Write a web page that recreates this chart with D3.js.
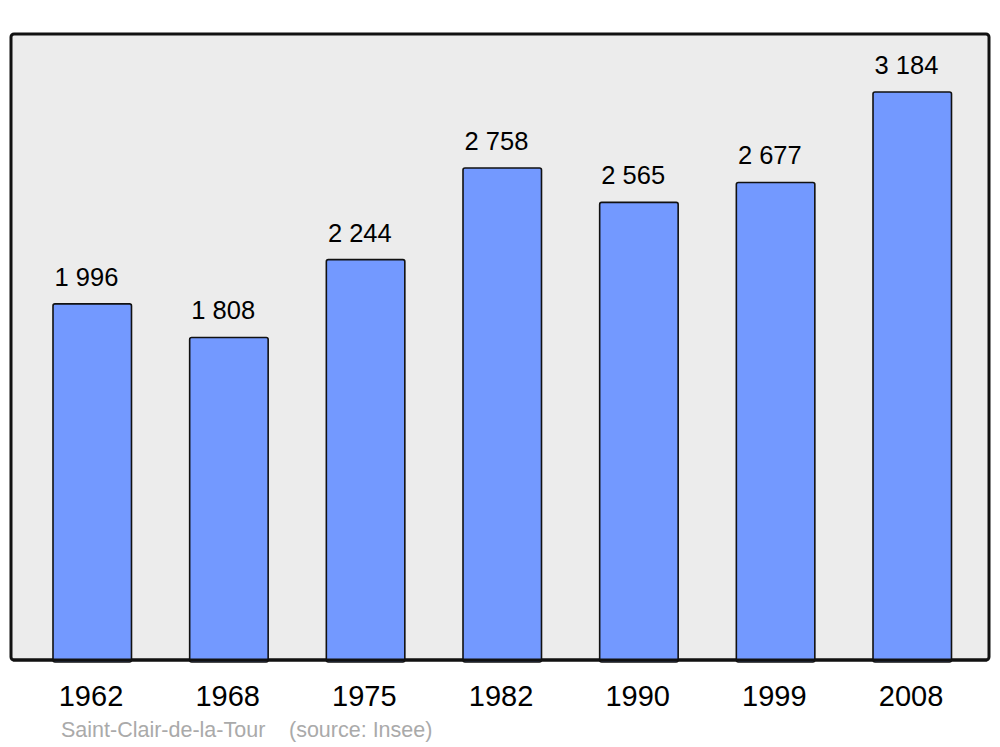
<!DOCTYPE html>
<html>
<head>
<meta charset="utf-8">
<script src="https://cdn.jsdelivr.net/npm/d3@7"></script>
<style>
  body { margin: 0; background: #fff; }
  svg { display: block; font-family: "Liberation Sans", Arial, sans-serif; }
</style>
</head>
<body>
<div class="chart"></div>
<script>
var years = ["1962", "1968", "1975", "1982", "1990", "1999", "2008"];
var population = [1996, 1808, 2244, 2758, 2565, 2677, 3184];
var valueLabels = ["1 996", "1 808", "2 244", "2 758", "2 565", "2 677", "3 184"];
var commune = "Saint-Clair-de-la-Tour";
var source = "(source: Insee)";

var width = 1000, height = 747;
var panel = {left: 11, top: 34, right: 989, bottom: 660};

var svg = d3.select(".chart").append("svg")
  .attr("width", width)
  .attr("height", height);

// frame
svg.append("rect")
  .attr("x", panel.left)
  .attr("y", panel.top)
  .attr("width", panel.right - panel.left)
  .attr("height", panel.bottom - panel.top)
  .attr("rx", 3)
  .attr("fill", "#ececec")
  .attr("stroke", "#111")
  .attr("stroke-width", 3);

var xScale = d3.scaleBand()
  .domain(years)
  .range([13.5, 991.5])
  .paddingInner(0.422)
  .paddingOuter(0.289);

var yScale = d3.scaleLinear()
  .domain([0, 3509])
  .range([panel.bottom, panel.top]);

var bars = svg.append("g");
years.forEach(function(y, i){
  bars.append("rect")
    .attr("x", xScale(y))
    .attr("y", yScale(population[i]))
    .attr("width", xScale.bandwidth() - 0.5)
    .attr("height", yScale(0) - yScale(population[i]) + 2)
    .attr("rx", 2)
    .attr("fill", "#7399ff")
    .attr("stroke", "#111")
    .attr("stroke-width", 1.6);

  svg.append("text")
    .text(valueLabels[i])
    .attr("x", xScale(y) + xScale.bandwidth()/2 - 6)
    .attr("y", yScale(population[i]) - 18)
    .attr("text-anchor", "middle")
    .attr("font-size", 25.5)
    .attr("fill", "#000");
});

// redraw bottom edge of frame over bars
svg.append("line")
  .attr("x1", panel.left + 2).attr("x2", panel.right - 2)
  .attr("y1", panel.bottom).attr("y2", panel.bottom)
  .attr("stroke", "#111")
  .attr("stroke-width", 3);

// years
var xAxis = d3.axisBottom(xScale).tickSize(0).tickPadding(0);
var axisG = svg.append("g")
  .attr("transform", "translate(-1.5," + (panel.bottom + 46) + ")")
  .call(xAxis);
axisG.select(".domain").remove();
axisG.selectAll("text")
  .attr("dy", 0)
  .attr("font-size", 29)
  .attr("font-family", "Liberation Sans, Arial, sans-serif")
  .attr("fill", "#000");

// caption
svg.append("text")
  .text(commune)
  .attr("x", 61)
  .attr("y", 737)
  .attr("font-size", 21.5)
  .attr("fill", "#aaaaaa");
svg.append("text")
  .text(source)
  .attr("x", 289)
  .attr("y", 737)
  .attr("font-size", 21.5)
  .attr("fill", "#aaaaaa");
</script>
</body>
</html>
